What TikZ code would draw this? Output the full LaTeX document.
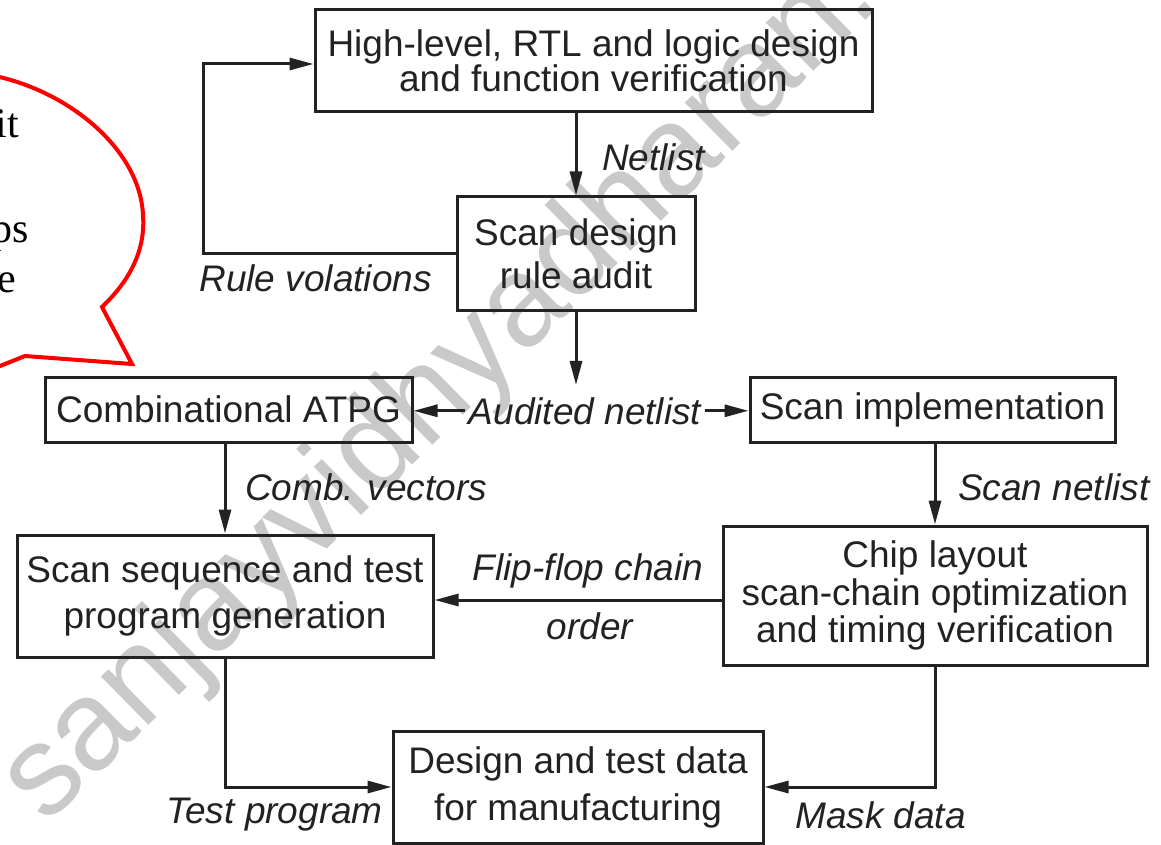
\documentclass[tikz,border=0pt]{standalone}
\usepackage{fontspec}
\setmainfont{Liberation Sans}
\newfontfamily\bubblefont{Liberation Serif}
\usetikzlibrary{arrows.meta}
\definecolor{ink}{HTML}{222222}
\definecolor{mark}{HTML}{C9C9C9}
\tikzset{
  stagebox/.style={draw=ink, text=ink, line width=3pt, inner sep=0pt, align=center},
  flowlabel/.style={text=ink, inner sep=0pt, font=\fontsize{37}{40}\selectfont\itshape},
  flow/.style={draw=ink, line width=3pt, -{Triangle[length=24pt,width=12pt]}},
  plainline/.style={draw=ink, line width=3pt}
}
\begin{document}
\begin{tikzpicture}[x=1pt,y=-1pt]
\useasboundingbox (0,0) rectangle (1161,845);
\fill[white] (0,0) rectangle (1161,845);
\clip (0,0) rectangle (1161,845);

% diagonal watermark
\node[text=mark, anchor=base west, rotate=44.5, inner sep=0pt,
      font=\fontsize{128}{128}\selectfont] (wm) at (46,826) {sanjayvidhyadharan.};

% callout bubble
\draw[red, line width=4pt, line join=miter]
  (-5,76) .. controls (70,92) and (140,150) .. (143,215)
  .. controls (146,255) and (125,285) .. (102,307)
  -- (132,364) -- (25,356) -- (-5,368);
\node[anchor=base east, inner sep=0pt, font=\bubblefont\fontsize{42}{42}\selectfont] (b1) at (19,138) {it};
\node[anchor=base east, inner sep=0pt, font=\bubblefont\fontsize{42}{42}\selectfont] (b2) at (29,242) {ps};
\node[anchor=base east, inner sep=0pt, font=\bubblefont\fontsize{42}{42}\selectfont] (b3) at (16,292) {e};

% process stages
\node[stagebox, minimum width=557pt, minimum height=102pt, font=\fontsize{37}{35}\selectfont]
  (top) at (593.5,61) {High-level, RTL and logic design\\and function verification};
\node[stagebox, minimum width=238pt, minimum height=113pt, font=\fontsize{37}{43}\selectfont]
  (sd) at (576,253.5) {Scan design\\rule audit};
\node[stagebox, minimum width=367pt, minimum height=65pt, font=\fontsize{37}{40}\selectfont]
  (atpg) at (228.5,409.5) {Combinational ATPG};
\node[stagebox, minimum width=365pt, minimum height=65pt, font=\fontsize{37}{40}\selectfont]
  (impl) at (932.5,409.5) {Scan implementation};
\node[stagebox, minimum width=416pt, minimum height=122pt, font=\fontsize{37}{46}\selectfont]
  (seq) at (225,596) {Scan sequence and test\\program generation};
\node[stagebox, minimum width=424pt, minimum height=139pt, font=\fontsize{37}{37.5}\selectfont]
  (chip) at (935,595.5) {Chip layout\\scan-chain optimization\\and timing verification};
\node[stagebox, minimum width=370pt, minimum height=112pt, font=\fontsize{37}{47}\selectfont]
  (design) at (578,787) {Design and test data\\for manufacturing};

% connector labels
\node[flowlabel, anchor=west] (netl) at (602,157) {Netlist};
\node[flowlabel, anchor=east] (rulev) at (432,278) {Rule volations};
\node[flowlabel, anchor=base, inner xsep=4pt, inner ysep=12pt] (aud) at (585,424) {Audited netlist};
\node[flowlabel, anchor=west] (combv) at (245,487) {Comb. vectors};
\node[flowlabel, anchor=west] (scanl) at (958,487) {Scan netlist};
\node[flowlabel] (ffc) at (588,571) {Flip-flop chain};
\node[flowlabel] (ffo) at (590,626) {order};
\node[flowlabel, anchor=east] (testp) at (383,815) {Test program};
\node[flowlabel, anchor=west] (maskd) at (795,815) {Mask data};

% connectors
\coordinate (loopA) at (203,253);
\coordinate (loopB) at (203,64);
\draw[flow] (sd.north |- top.south) -- (sd.north);
\draw[flow] (sd.west |- loopA) -- (loopA) -- (loopB) -- (top.west |- loopB);
\draw[flow] (sd.south) -- (sd.south |- aud.north);
\draw[flow] (aud.west) -- (aud.west -| atpg.east);
\draw[flow] (aud.east) -- (aud.east -| impl.west);
\draw[flow] (seq.north |- atpg.south) -- (seq.north);
\draw[flow] (chip.north |- impl.south) -- (chip.north);
\draw[flow] (chip.west |- 0,600) -- (seq.east |- 0,600);
\draw[flow] (seq.south) |- (design.west);
\draw[flow] (chip.south) |- (design.east);
\end{tikzpicture}
\end{document}
